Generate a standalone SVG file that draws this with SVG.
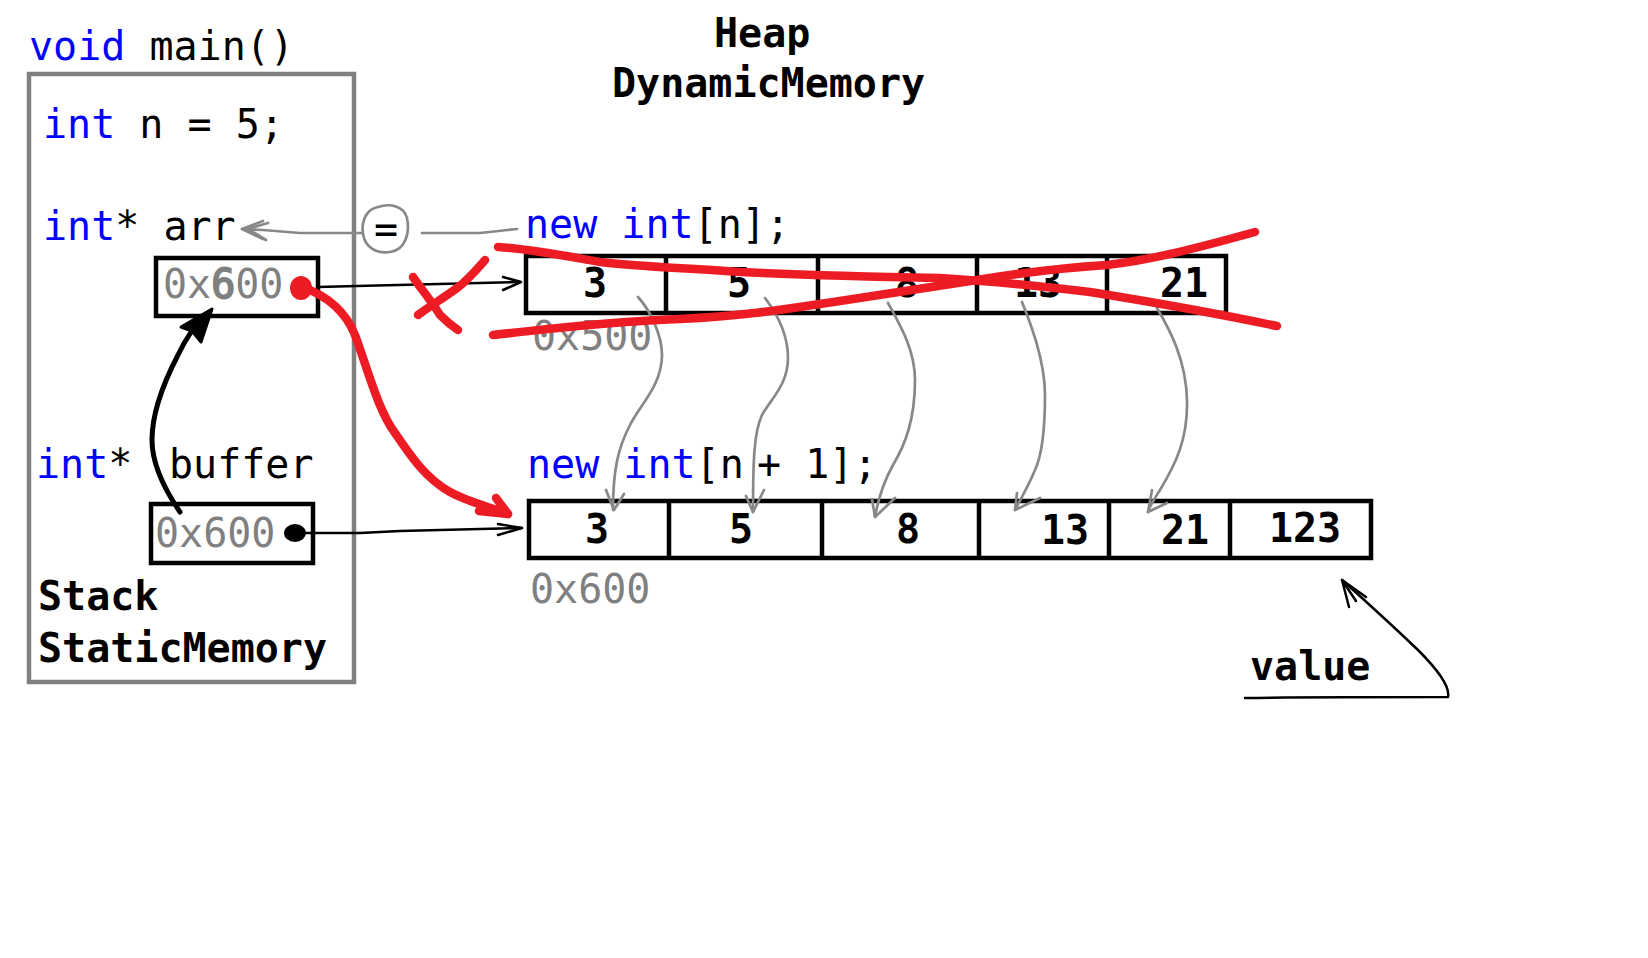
<svg xmlns="http://www.w3.org/2000/svg" width="1648" height="958" viewBox="0 0 1648 958">
<style>
.t{font-family:"DejaVu Sans Mono","Liberation Mono",monospace;font-size:40px;fill:#000}
.b{font-weight:bold}
.kw{fill:#0000ff}
.gr{fill:#808080}
.box{fill:none;stroke:#000;stroke-width:4.5}
.frame{fill:none;stroke:#808080;stroke-width:4.5}
.gl{fill:none;stroke:#888;stroke-width:2.7;stroke-linecap:round;stroke-linejoin:round}
.bl{fill:none;stroke:#000;stroke-width:2.5;stroke-linecap:round;stroke-linejoin:round}
.red{fill:none;stroke:#ed1c24;stroke-width:8.5;stroke-linecap:round;stroke-linejoin:round}
</style>
<rect width="1648" height="958" fill="#fff"/>

<g id="stack-frame">
  <text class="t" x="29" y="60"><tspan class="kw">void</tspan> main()</text>
  <rect class="frame" x="29" y="74" width="325" height="608"/>
  <text class="t" x="43" y="138"><tspan class="kw">int</tspan> n = 5;</text>
  <text class="t b" x="38" y="610">Stack</text>
  <text class="t b" x="38" y="662">StaticMemory</text>
</g>

<g id="arr-var">
  <text class="t" x="43" y="240"><tspan class="kw">int</tspan>* arr</text>
  <rect class="box" x="156" y="258" width="162" height="58"/>
  <text class="t gr" x="163" y="298">0x<tspan stroke="#808080" stroke-width="1.8">6</tspan>00</text>
  <ellipse cx="301" cy="288" rx="11" ry="12" fill="#ed1c24"/>
</g>

<g id="buffer-var">
  <text class="t kw" x="36" y="478">int<tspan fill="#000">*</tspan></text>
  <text class="t" x="169" y="478">buffer</text>
  <rect class="box" x="151" y="504" width="162" height="59"/>
  <text class="t gr" x="155" y="547">0x600</text>
  <ellipse cx="295" cy="533" rx="11" ry="9" fill="#000"/>
</g>

<g id="heap-title">
  <text class="t b" x="714" y="47">Heap</text>
  <text class="t b" x="612" y="97">DynamicMemory</text>
</g>

<g id="array-old">
  <text class="t" x="525" y="238"><tspan class="kw">new int</tspan>[n];</text>
  <rect class="box" x="526" y="256" width="700" height="57"/>
  <path class="box" d="M666,256V313M818,256V313M977,256V313M1107,256V313"/>
  <g class="t b" text-anchor="middle">
    <text x="595" y="297">3</text>
    <text x="739" y="297">5</text>
    <text x="907" y="297">8</text>
    <text x="1038" y="297">13</text>
    <text x="1184" y="297">21</text>
  </g>
  <text class="t gr" x="532" y="350">0x500</text>
</g>

<g id="array-new">
  <text class="t" x="527" y="478"><tspan class="kw">new int</tspan>[n<tspan x="757">+ 1];</tspan></text>
  <rect class="box" x="529" y="501" width="842" height="57"/>
  <path class="box" d="M669,501V558M822,501V558M979,501V558M1109,501V558M1230,501V558"/>
  <g class="t b" text-anchor="middle">
    <text x="597" y="543">3</text>
    <text x="741" y="543">5</text>
    <text x="908" y="543">8</text>
    <text x="1065" y="544">13</text>
    <text x="1185" y="544">21</text>
    <text x="1305" y="542">123</text>
  </g>
  <text class="t gr" x="530" y="603">0x600</text>
</g>

<g id="value-label">
  <text class="t b" x="1250" y="680">value</text>
</g>

<g id="connectors">
  <path class="gl" d="M378,207 C390,203 404,206 407,218 C410,232 406,250 390,252 C376,254 365,247 363,234 C361,220 367,209 378,207 Z"/>
  <text class="t" x="386" y="243" text-anchor="middle">=</text>
  <path class="gl" d="M362,233 L300,233 L263,230 L242,229"/>
  <path class="gl" d="M263,221 L242,229 L263,239 M268,223 L248,229 L266,240"/>
  <path class="gl" d="M422,233 L480,233 L517,229"/>

  <path class="bl" d="M318,287 L357,286 L520,282"/>
  <path class="bl" d="M503,277 L521,282 L503,290"/>
  <path class="bl" d="M305,533 L360,533 L400,531 L522,528"/>
  <path class="bl" d="M498,524 L522,528 L498,535"/>

  <path fill="none" stroke="#000" stroke-width="5" stroke-linecap="round" d="M180,512 C165,490 152,465 152,440 C152,410 165,380 178,355 C185,340 195,325 206,315"/>
  <polygon points="212,309 181,327 192,331 201,342" fill="#000" stroke="#000" stroke-width="3" stroke-linejoin="round"/>

  <path class="gl" d="M638,297 C650,310 662,335 662,355 C662,385 640,405 630,425 C618,448 613,470 613,510"/>
  <path class="gl" d="M606,490 L614,510 L624,494"/>
  <path class="gl" d="M765,298 C778,315 788,335 788,358 C788,385 770,400 762,415 C754,432 753,460 753,512"/>
  <path class="gl" d="M746,496 L753,512 L764,490"/>
  <path class="gl" d="M888,303 C900,325 915,350 915,380 C915,420 905,445 893,465 C883,483 878,500 875,517"/>
  <path class="gl" d="M872,499 L875,517 L895,498"/>
  <path class="gl" d="M1022,302 C1030,322 1045,360 1045,395 C1045,430 1042,455 1035,470 C1028,487 1020,500 1015,510"/>
  <path class="gl" d="M1017,493 L1015,510 L1040,498"/>
  <path class="gl" d="M1157,308 C1170,330 1186,360 1187,400 C1188,440 1175,465 1160,490 C1155,498 1150,505 1148,512"/>
  <path class="gl" d="M1152,490 L1148,512 L1167,503"/>

  <path class="bl" d="M1245,698 C1300,697 1400,697 1448,697 C1450,688 1440,672 1418,650 C1395,628 1370,605 1342,580"/>
  <path class="bl" d="M1349,607 L1342,580 L1366,597 M1342,580 L1356,601"/>

  <path class="red" d="M413,277 C422,290 432,302 440,315 C447,322 452,326 458,330"/>
  <path class="red" d="M485,260 C478,268 468,280 457,288 C445,297 430,306 418,315"/>
  <path class="red" d="M498,247 C530,249 560,255 600,262 C640,267 690,268 740,272 C800,275 880,277 940,278 C990,281 1040,286 1090,292 C1140,300 1200,310 1277,326"/>
  <path class="red" d="M493,335 C540,330 600,322 680,319 C740,316 780,310 813,305 C860,298 900,292 977,280 C1020,273 1060,268 1107,265 C1150,260 1190,250 1255,232"/>
  <path class="red" stroke-width="7.5" d="M302,287 C325,295 345,310 355,335 C368,370 378,410 395,433 C410,455 425,478 450,492 C468,502 490,507 508,514"/>
  <path class="red" stroke-width="7.5" d="M496,498 L508,514 L479,511"/>
</g>
</svg>
